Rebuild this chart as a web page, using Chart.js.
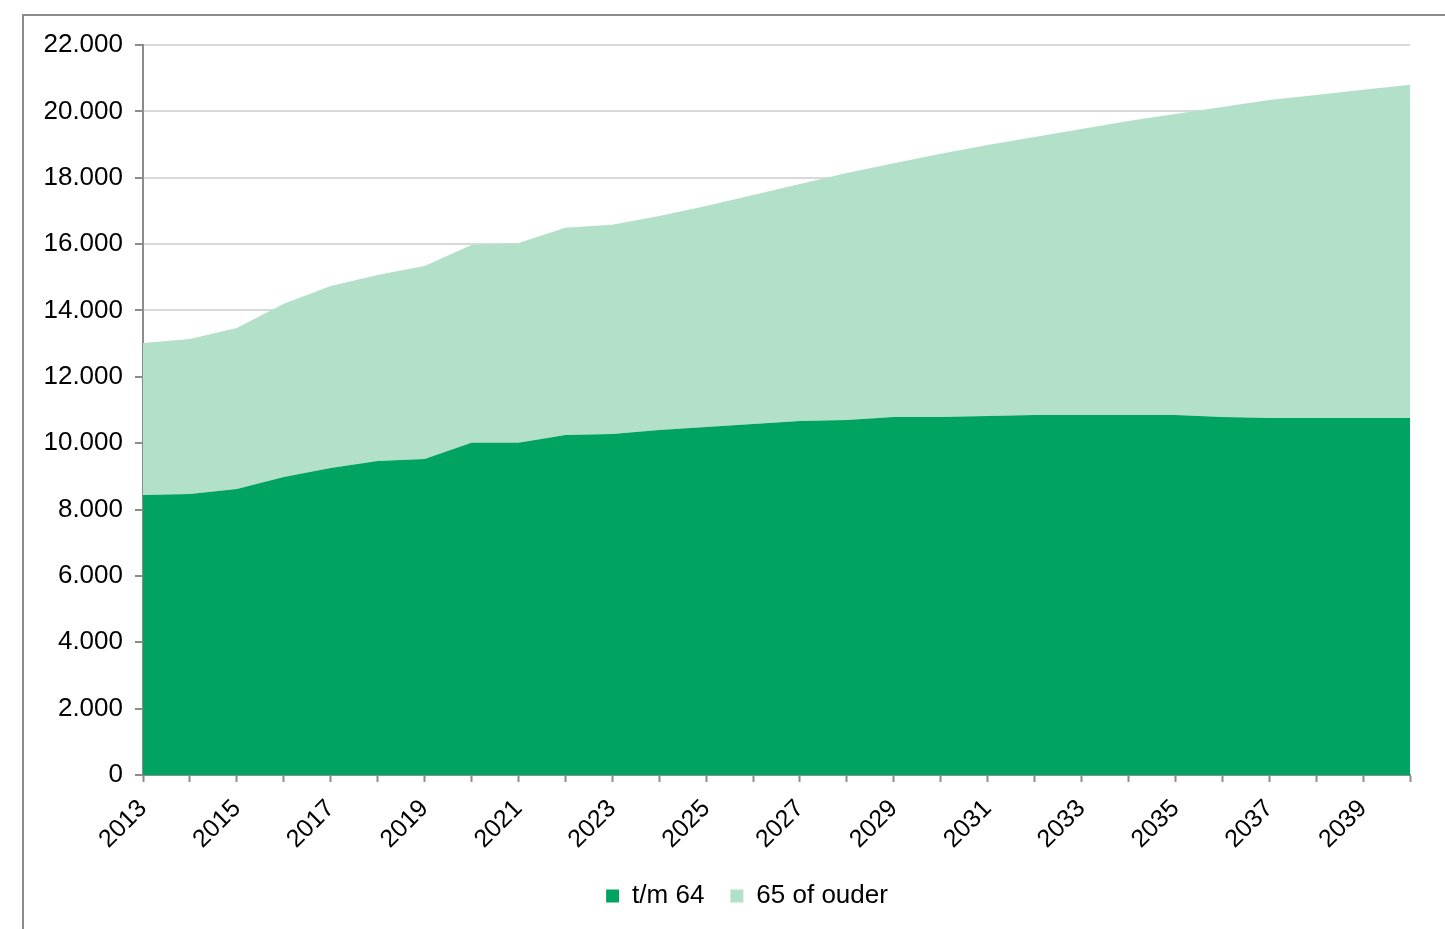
<!DOCTYPE html>
<html>
<head>
<meta charset="utf-8">
<script src="https://cdn.jsdelivr.net/npm/chart.js@4"></script>
<style>
  html, body { margin: 0; padding: 0; background: #fff; overflow: hidden; }
  #frame { position: absolute; left: 22px; top: 14px; width: 1500px; height: 1000px; border: 2px solid #8c8c8c; }
  #wrap { position: absolute; left: 0; top: 0; width: 1445px; height: 929px; }
</style>
</head>
<body>
<div id="frame"></div>
<div id="wrap"><canvas id="myChart"></canvas></div>
<script>
const YEARS = ['2013', '2014', '2015', '2016', '2017', '2018', '2019', '2020', '2021', '2022',
    '2023', '2024', '2025', '2026', '2027', '2028', '2029', '2030', '2031', '2032',
    '2033', '2034', '2035', '2036', '2037', '2038', '2039', '2040'];
const UNDER_65 = [8440, 8470, 8620, 8980, 9250, 9460, 9520, 10010, 10010, 10250,
    10280, 10400, 10490, 10580, 10670, 10700, 10790, 10790, 10820, 10850,
    10850, 10850, 10850, 10790, 10760, 10760, 10760, 10760];
const OVER_65 = [4580, 4670, 4850, 5220, 5490, 5610, 5820, 5960, 6020, 6240,
    6300, 6450, 6660, 6900, 7140, 7440, 7650, 7930, 8170, 8380,
    8620, 8860, 9070, 9340, 9580, 9730, 9890, 10040];
const SERIES_LABELS = ['t/m 64', '65 of ouder'];
const Y_MAX = 22000;
const Y_STEP = 2000;

const COLOR_DARK = '#00a35f';
const COLOR_LIGHT = '#b3e0c8';
const AXIS_COLOR = '#8c8c8c';
const GRID_COLOR = '#d9d9d9';
const FONT = 'Liberation Sans, Arial, sans-serif';
const LEGEND_SHIFT = 32;

function formatThousands(v) {
    return String(v).replace(/\B(?=(\d{3})+(?!\d))/g, '.');
}

// the legend in the original sits a bit right of the canvas centre
const shiftLegend = {
    id: 'shiftLegend',
    afterLayout(chart) {
        if (chart.legend) {
            chart.legend.left += LEGEND_SHIFT;
            chart.legend.right += LEGEND_SHIFT;
        }
    },
};

const chartData = {
    labels: YEARS,
    datasets: [
        {
            label: SERIES_LABELS[0],
            data: UNDER_65,
            backgroundColor: COLOR_DARK,
            borderColor: COLOR_DARK,
            borderWidth: 0,
            fill: 'origin',
        },
        {
            label: SERIES_LABELS[1],
            data: OVER_65,
            backgroundColor: COLOR_LIGHT,
            borderColor: COLOR_LIGHT,
            borderWidth: 0,
            fill: '-1',
        },
    ],
};

const config = {
    type: 'line',
    data: chartData,
    plugins: [shiftLegend],
    options: {
        responsive: true,
        maintainAspectRatio: false,
        animation: false,
        elements: { point: { radius: 0 }, line: { tension: 0 } },
        layout: { padding: { left: 20, right: 35, top: 45, bottom: 10 } },
        plugins: {
            tooltip: { enabled: false },
            legend: {
                position: 'bottom',
                labels: {
                    color: '#000',
                    font: { family: FONT, size: 26 },
                    boxWidth: 13,
                    boxHeight: 13,
                    padding: 26,
                },
            },
        },
        scales: {
            x: {
                offset: false,
                grid: { drawOnChartArea: false, tickColor: AXIS_COLOR, tickLength: 7, tickWidth: 2 },
                border: { color: AXIS_COLOR, width: 2 },
                ticks: {
                    autoSkip: false,
                    maxRotation: 45,
                    minRotation: 45,
                    padding: 12,
                    labelOffset: 0,
                    color: '#000',
                    font: { family: FONT, size: 25 },
                    callback: function (value, index) {
                        return index % 2 === 0 ? this.getLabelForValue(value) : '';
                    },
                },
                afterFit: (scale) => { scale.height = 82; },
            },
            y: {
                stacked: true,
                min: 0,
                max: Y_MAX,
                grid: { color: GRID_COLOR, lineWidth: 2, tickColor: AXIS_COLOR, tickLength: 8, tickWidth: 2 },
                border: { color: AXIS_COLOR, width: 2 },
                ticks: {
                    stepSize: Y_STEP,
                    padding: 12,
                    color: '#000',
                    font: { family: FONT, size: 26 },
                    callback: (v) => formatThousands(v),
                },
                afterFit: (scale) => { scale.width = 123; },
            },
        },
    },
};

const myChart = new Chart(document.querySelector('#myChart'), config);
</script>
</body>
</html>
